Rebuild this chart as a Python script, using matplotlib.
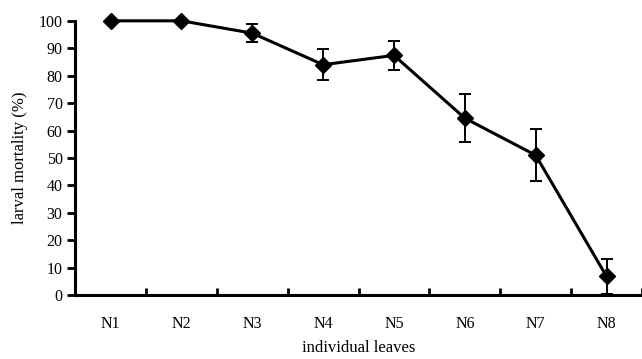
import numpy as np
import matplotlib
matplotlib.use('Agg')
import matplotlib.pyplot as plt

# Data
leaves = ['N1', 'N2', 'N3', 'N4', 'N5', 'N6', 'N7', 'N8']
mortality = [100, 100, 95.5, 84.0, 87.4, 64.5, 51.0, 6.8]
err = [0, 0, 3.2, 5.6, 5.4, 8.8, 9.5, 6.3]

plt.rcParams['font.family'] = ['Liberation Serif', 'DejaVu Serif']

fig = plt.figure(figsize=(6.42, 3.59), dpi=100)
ax = fig.add_axes([0.117, 0.178, 0.883, 0.764])

x = np.arange(1, len(leaves) + 1)
ax.errorbar(x, mortality, yerr=err, fmt='none', ecolor='black',
            elinewidth=1.4, capsize=4, capthick=1.4, zorder=2)
ax.plot(x, mortality, color='black', linewidth=2.2, marker='D',
        markersize=8.5, clip_on=False, zorder=3)

ax.set_xlim(0.5, 8.5)
ax.set_ylim(0, 100)
ax.set_yticks(range(0, 101, 10))

# category labels at centres, tick marks between categories
ax.set_xticks(x)
ax.set_xticklabels(leaves)
ax.set_xticks(np.arange(1.5, 9, 1), minor=True)
ax.tick_params(axis='x', which='major', length=0, pad=15, labelsize=11.5)
ax.tick_params(axis='x', which='minor', direction='in', length=5, width=2)
ax.tick_params(axis='y', direction='out', length=6, width=2, labelsize=11.5, pad=3)

for side in ['top', 'right']:
    ax.spines[side].set_visible(False)
for side in ['left', 'bottom']:
    ax.spines[side].set_linewidth(2.2)

ax.set_xlabel('individual leaves', fontsize=12, labelpad=6)
ax.set_ylabel('larval mortality (%)', fontsize=12, labelpad=8)

fig.savefig('out.png', dpi=100)
